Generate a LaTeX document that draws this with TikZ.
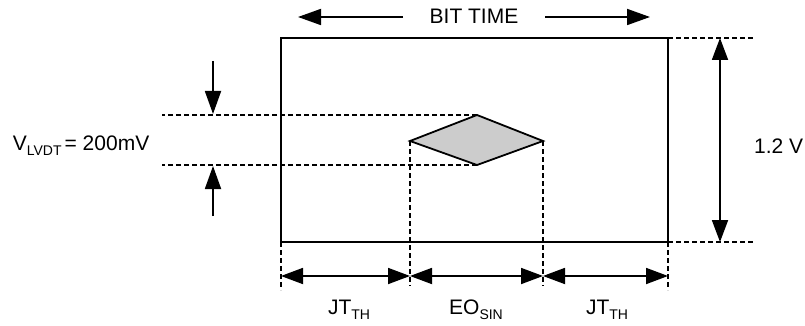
\documentclass[tikz,border=0pt]{standalone}
\usepackage{fontspec}
\setmainfont{Liberation Sans}
\usetikzlibrary{arrows.meta}
\newcommand{\lowsub}[1]{\raisebox{-5.5pt}{\fontsize{14}{14}\selectfont #1}}
\begin{document}
\begin{tikzpicture}[x=1pt,y=-1pt,line width=1.8pt,
  tip/.style={-{Triangle[length=23pt,width=16pt]}},
  dim/.style={{Triangle[length=22pt,width=16pt]}-{Triangle[length=22pt,width=16pt]}},
  guide/.style={dash pattern=on 5pt off 3pt,line width=1.3pt},
  lbl/.style={font=\fontsize{21}{24}\selectfont,inner sep=0pt}]
\useasboundingbox (0,0) rectangle (805,326);
% frame corners
\coordinate (TL) at (281,38);
\coordinate (TR) at (668,38);
\coordinate (BL) at (281,242);
\coordinate (BR) at (668,242);
\draw (TL) rectangle (BR);
% diamond
\coordinate (DL) at (410,141);
\coordinate (DT) at (477,115);
\coordinate (DR) at (543,141);
\coordinate (DB) at (477,165);
\draw[fill=black!20] (DL) -- (DT) -- (DR) -- (DB) -- cycle;
% guide ends
\coordinate (TRe) at (755,38);
\coordinate (BRe) at (755,242);
\coordinate (DTe) at (162,115);
\coordinate (DBe) at (162,165);
\coordinate (DLe) at (410,286);
\coordinate (DRe) at (543,286);
\coordinate (BLe) at (281,290);
\coordinate (BRd) at (668,290);
\draw[guide] (TR) -- (TRe);
\draw[guide] (BR) -- (BRe);
\draw[guide] (DT) -- (DTe);
\draw[guide] (DB) -- (DBe);
\draw[guide] (DL) -- (DLe);
\draw[guide] (DR) -- (DRe);
\draw[guide] (BL) -- (BLe);
\draw[guide] (BR) -- (BRd);
% bottom dimension arrows
\coordinate (a0) at (281,276);
\coordinate (a1) at (410,276);
\coordinate (a2) at (543,276);
\coordinate (a3) at (668,276);
\draw[dim] (a0) -- (a1);
\draw[dim] (a1) -- (a2);
\draw[dim] (a2) -- (a3);
% 1.2 V
\coordinate (v1) at (720,38);
\coordinate (v2) at (720,242);
\draw[dim] (v1) -- (v2);
\node[lbl,anchor=base east] (vlab) at (804,153) {1.2 V};
% VLVDT arrows
\coordinate (u0) at (213,61);
\coordinate (u1) at (213,114);
\coordinate (w0) at (213,216);
\coordinate (w1) at (213,166);
\draw[tip] (u0) -- (u1);
\draw[tip] (w0) -- (w1);
\node[lbl,anchor=base west] (vl) at (12,150) {V\lowsub{LVDT}\hspace{3pt}= 200mV};
% BIT TIME
\node[lbl,anchor=base] (bt) at (474,24) {BIT TIME};
\coordinate (b0) at (403,17);
\coordinate (b1) at (298,17);
\coordinate (c0) at (545,17);
\coordinate (c1) at (650,17);
\draw[tip] (b0) -- (b1);
\draw[tip] (c0) -- (c1);
% bottom labels
\node[lbl,anchor=base] (j1) at (349,314) {JT\lowsub{TH}};
\node[lbl,anchor=base] (eo) at (476,314) {EO\lowsub{SIN}};
\node[lbl,anchor=base] (j2) at (607,314) {JT\lowsub{TH}};
\end{tikzpicture}
\end{document}
